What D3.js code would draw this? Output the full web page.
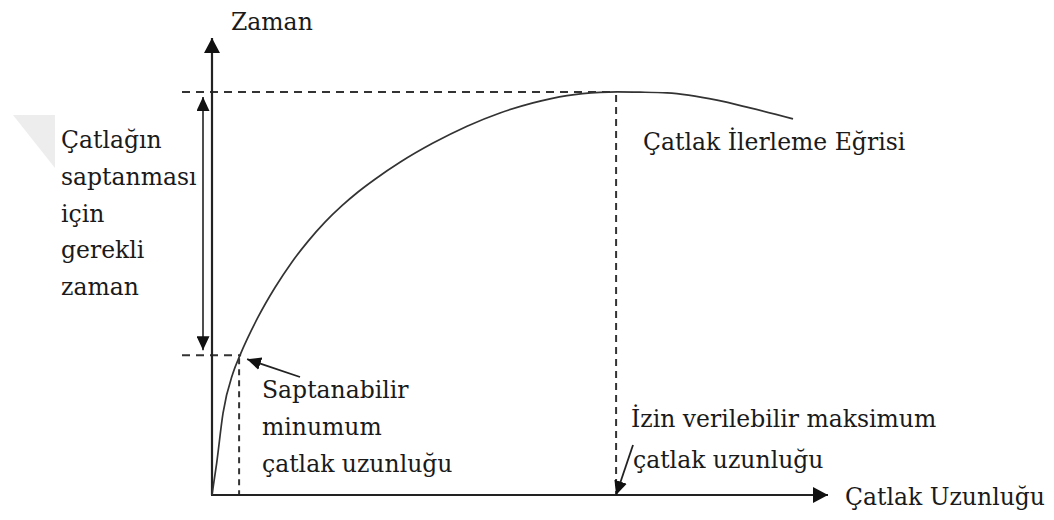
<!DOCTYPE html>
<html>
<head>
<meta charset="utf-8">
<script src="https://cdn.jsdelivr.net/npm/d3@7"></script>
<style>
  body { margin: 0; background: #fff; }
</style>
</head>
<body>
<div id="chart"></div>
<script>
// crack growth curve (crack length vs time, arbitrary 0-100 units)
const crackLen = [0, 0.76, 1.79, 3.41, 4.55, 7.47, 10.23, 12.99, 15.58, 18.34, 21.1, 23.7, 26.46, 30.52, 35.88, 41.4, 46.75, 52.11, 57.63, 62.99, 65.75, 69.5, 73.86, 81.98, 87.34, 94.32];
const timeVal  = [0, 7, 17.9, 26.7, 30.6, 38.9, 45.4, 51, 55.5, 59.7, 63.3, 66.3, 69.1, 72.8, 77, 80.7, 83.6, 85.8, 87.4, 88.1, 88.2, 88.15, 88, 86.4, 84.7, 82.3];

// marked points [length, time]
const minDetect = [4.4, 30.6];
const maxAllow = [65.6, 88.2];

const leftLabel = ['Çatlağın', 'saptanması', 'için', 'gerekli', 'zaman'];
const minLabel = ['Saptanabilir', 'minumum', 'çatlak uzunluğu'];
const maxLabel = ['İzin verilebilir maksimum', 'çatlak uzunluğu'];

const W = 1054, H = 520;
const x = d3.scaleLinear().domain([0, 100]).range([212, 828]);
const y = d3.scaleLinear().domain([0, 100]).range([495, 38]);

const svg = d3.select('#chart').append('svg')
  .attr('width', W).attr('height', H)
  .attr('font-family', "'DejaVu Serif', serif")
  .attr('font-size', 23.5);

// faint watermark corner
svg.append('path')
  .attr('d', 'M13,115 L55,115 L55,168 Z')
  .attr('fill', '#ededed');

const defs = svg.append('defs');
function marker(id, w, h) {
  defs.append('marker')
    .attr('id', id)
    .attr('markerUnits', 'userSpaceOnUse')
    .attr('markerWidth', h).attr('markerHeight', w)
    .attr('refX', h).attr('refY', w / 2)
    .attr('orient', 'auto-start-reverse')
    .attr('viewBox', `0 0 ${h} ${w}`)
    .append('path')
    .attr('d', `M0,0 L${h},${w / 2} L0,${w} Z`)
    .attr('fill', '#111');
}
marker('axisHead', 16, 15);
marker('smallHead', 13, 14);

// dashed guides
const dash = svg.append('g').attr('stroke', '#333').attr('stroke-width', 2).attr('fill', 'none');
dash.append('line')
  .attr('x1', x(0) - 30).attr('x2', x(maxAllow[0]))
  .attr('y1', y(maxAllow[1])).attr('y2', y(maxAllow[1]))
  .attr('stroke-dasharray', '8,6');
dash.append('line')
  .attr('x1', x(0) - 30).attr('x2', x(minDetect[0]) + 2)
  .attr('y1', y(minDetect[1])).attr('y2', y(minDetect[1]))
  .attr('stroke-dasharray', '8,6');
dash.append('line')
  .attr('x1', x(maxAllow[0])).attr('x2', x(maxAllow[0]))
  .attr('y1', y(maxAllow[1]) + 3).attr('y2', y(0))
  .attr('stroke-dasharray', '7,5');
dash.append('line')
  .attr('x1', x(minDetect[0])).attr('x2', x(minDetect[0]))
  .attr('y1', y(minDetect[1]) + 3).attr('y2', y(0))
  .attr('stroke-dasharray', '6,5');

// axes
svg.append('line')
  .attr('x1', x(0)).attr('y1', y(0))
  .attr('x2', x(0)).attr('y2', y(100))
  .attr('stroke', '#222').attr('stroke-width', 2.2)
  .attr('marker-end', 'url(#axisHead)');
svg.append('line')
  .attr('x1', x(0) - 1).attr('y1', y(0))
  .attr('x2', x(100)).attr('y2', y(0))
  .attr('stroke', '#222').attr('stroke-width', 2.2)
  .attr('marker-end', 'url(#axisHead)');

// double arrow: time needed for detection
svg.append('line')
  .attr('x1', x(0) - 9).attr('x2', x(0) - 9)
  .attr('y1', y(maxAllow[1]) + 5).attr('y2', y(minDetect[1]) - 5)
  .attr('stroke', '#222').attr('stroke-width', 1.6)
  .attr('marker-start', 'url(#smallHead)')
  .attr('marker-end', 'url(#smallHead)');

// the curve
const pts = crackLen.map((d, i) => [d, timeVal[i]]);
svg.append('path')
  .datum(pts)
  .attr('d', d3.line().x(d => x(d[0])).y(d => y(d[1])).curve(d3.curveMonotoneX))
  .attr('fill', 'none')
  .attr('stroke', '#333')
  .attr('stroke-width', 1.7);

// pointer arrows
svg.append('line')
  .attr('x1', 300).attr('y1', 377)
  .attr('x2', x(minDetect[0]) + 8).attr('y2', y(minDetect[1]) + 4)
  .attr('stroke', '#222').attr('stroke-width', 1.8)
  .attr('marker-end', 'url(#smallHead)');
svg.append('line')
  .attr('x1', 633).attr('y1', 445)
  .attr('x2', x(maxAllow[0])).attr('y2', y(0))
  .attr('stroke', '#222').attr('stroke-width', 1.8)
  .attr('marker-end', 'url(#smallHead)');

// texts
const txt = svg.append('g').attr('fill', '#1a1a1a');
txt.append('text').attr('x', 231).attr('y', 30).text('Zaman');
txt.append('text').attr('x', 845).attr('y', 505).text('Çatlak Uzunluğu');
txt.append('text').attr('x', 643).attr('y', 150).text('Çatlak İlerleme Eğrisi');

txt.append('g').selectAll('text').data(leftLabel).join('text')
  .attr('x', 61).attr('y', (d, i) => 148 + i * 36.8).text(d => d);
txt.append('g').selectAll('text').data(minLabel).join('text')
  .attr('x', 262).attr('y', (d, i) => 398 + i * 37).text(d => d);
txt.append('g').selectAll('text').data(maxLabel).join('text')
  .attr('x', (d, i) => 631 + i * 2).attr('y', (d, i) => 427 + i * 41).text(d => d);
</script>
</body>
</html>
